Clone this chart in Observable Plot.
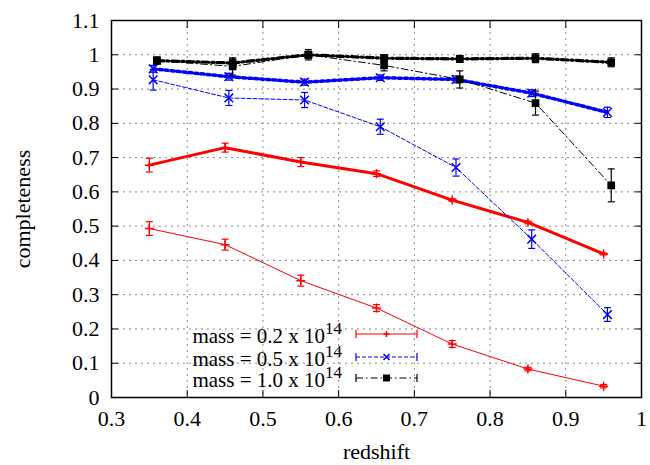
<!DOCTYPE html>
<html><head><meta charset="utf-8">
<script src="https://cdn.jsdelivr.net/npm/d3@7"></script>
<script src="https://cdn.jsdelivr.net/npm/@observablehq/plot@0.6"></script>
<style>body{margin:0;background:#fff;} #chart{position:relative;width:650px;height:465px;} svg text{font-family:'Liberation Serif','Times New Roman',serif;}</style>
</head><body><div id="chart"></div>
<script>
// ---- data ----
const xTicks = [0.3, 0.4, 0.5, 0.6, 0.7, 0.8, 0.9, 1.0];
const yTicks = [0, 0.1, 0.2, 0.3, 0.4, 0.5, 0.6, 0.7, 0.8, 0.9, 1.0, 1.1];
const legendLabels = ["mass = 0.2 x 10", "mass = 0.5 x 10", "mass = 1.0 x 10"];
const legendExp = "14";

const redshift02 = [0.35, 0.45, 0.55, 0.65, 0.75, 0.85, 0.95];
const redshift05 = [0.355, 0.455, 0.555, 0.655, 0.755, 0.855, 0.955];
const redshift10 = [0.36, 0.46, 0.56, 0.66, 0.76, 0.86, 0.96];

const m02Upper = [0.678, 0.729, 0.687, 0.653, 0.576, 0.511, 0.419];
const m02UpperErr = [0.02, 0.013, 0.013, 0.008, 0.004, 0.004, 0.003];
const m02Lower = [0.493, 0.446, 0.341, 0.261, 0.156, 0.083, 0.033];
const m02LowerErr = [0.02, 0.016, 0.016, 0.01, 0.01, 0.005, 0.005];

const m05Upper = [0.959, 0.936, 0.92, 0.933, 0.928, 0.888, 0.832];
const m05UpperErr = [0.01, 0.01, 0.009, 0.008, 0.01, 0.01, 0.015];
const m05Lower = [0.927, 0.874, 0.868, 0.79, 0.671, 0.462, 0.242];
const m05LowerErr = [0.03, 0.022, 0.022, 0.022, 0.025, 0.027, 0.02];

const m10Upper = [0.983, 0.976, 1.0, 0.99, 0.988, 0.99, 0.978];
const m10UpperErr = [0.01, 0.012, 0.01, 0.01, 0.01, 0.013, 0.013];
const m10Lower = [0.983, 0.966, 1.0, 0.969, 0.928, 0.859, 0.619];
const m10LowerErr = [0.01, 0.025, 0.015, 0.016, 0.025, 0.035, 0.048];

// ---- styles ----
const RED = "#ff0000", BLUE = "#0000ff", BLACK = "#000000";
const series = [
  {xs: redshift02, ys: m02Upper, es: m02UpperErr, color: RED, w: 3, dash: null, sym: "plus", r: 3},
  {xs: redshift02, ys: m02Lower, es: m02LowerErr, color: RED, w: 1, dash: null, sym: "plus", r: 3},
  {xs: redshift05, ys: m05Upper, es: m05UpperErr, color: BLUE, w: 3.5, dash: "3,3", sym: "times", r: 4},
  {xs: redshift05, ys: m05Lower, es: m05LowerErr, color: BLUE, w: 1, dash: "4,2", sym: "times", r: 4},
  {xs: redshift10, ys: m10Upper, es: m10UpperErr, color: BLACK, w: 3.2, dash: "7,3,2,3", sym: "square", r: 3.5},
  {xs: redshift10, ys: m10Lower, es: m10LowerErr, color: BLACK, w: 1, dash: "7,3,1.5,3", sym: "square", r: 3.5}
];

const capSymbol = {draw(ctx) { ctx.moveTo(-3.5, 0); ctx.lineTo(3.5, 0); }};
const fmt = d => String(+d.toFixed(1));
const FONT = "'Liberation Serif', 'Times New Roman', serif";

const marks = [
  Plot.gridX(xTicks, {stroke: "#888", strokeOpacity: 1, strokeDasharray: "2,4"}),
  Plot.gridY(yTicks, {stroke: "#888", strokeOpacity: 1, strokeDasharray: "2,4"})
];
for (const s of series) {
  const data = s.xs.map((x, i) => ({x, y: s.ys[i], e: s.es[i]}));
  marks.push(
    Plot.line(data, {x: "x", y: "y", stroke: s.color, strokeWidth: s.w, strokeDasharray: s.dash}),
    Plot.ruleX(data, {x: "x", y1: d => d.y - d.e, y2: d => d.y + d.e, stroke: s.color, strokeWidth: 1.2}),
    Plot.dot(data, {x: "x", y: d => d.y - d.e, symbol: capSymbol, stroke: s.color, strokeWidth: 1.2}),
    Plot.dot(data, {x: "x", y: d => d.y + d.e, symbol: capSymbol, stroke: s.color, strokeWidth: 1.2}),
    Plot.dot(data, {x: "x", y: "y", symbol: s.sym, r: s.r, stroke: s.color, fill: s.sym === "square" ? s.color : "none", strokeWidth: 1.5})
  );
}
marks.push(
  Plot.axisX({ticks: xTicks, anchor: "bottom", tickSize: 0, tickPadding: 13, tickFormat: fmt, label: null, fontSize: 22, fontFamily: FONT}),
  Plot.axisY({ticks: yTicks, anchor: "left", tickSize: 0, tickPadding: 12, tickFormat: fmt, label: null, fontSize: 22, fontFamily: FONT}),
  Plot.axisX({ticks: xTicks, anchor: "bottom", tickSize: -7, tickFormat: () => "", label: null}),
  Plot.axisX({ticks: xTicks, anchor: "top", tickSize: -7, tickFormat: () => "", label: null}),
  Plot.axisY({ticks: yTicks, anchor: "left", tickSize: -7, tickFormat: () => "", label: null}),
  Plot.axisY({ticks: yTicks, anchor: "right", tickSize: -7, tickFormat: () => "", label: null}),
  Plot.text(["redshift"], {frameAnchor: "bottom", lineAnchor: "middle", textAnchor: "middle", dy: 54, fontSize: 22, fontFamily: FONT}),
  Plot.text(["completeness"], {frameAnchor: "left", lineAnchor: "middle", textAnchor: "middle", dx: -89, rotate: -90, fontSize: 22, fontFamily: FONT}),
  Plot.frame({stroke: "#000", strokeWidth: 1.5})
);

const chart = Plot.plot({
  width: 650, height: 465,
  marginLeft: 111, marginRight: 9, marginTop: 20, marginBottom: 68,
  x: {domain: [0.3, 1.0]},
  y: {domain: [0, 1.1]},
  style: {fontFamily: FONT, fontSize: "22px", background: "#fff", color: "#000"},
  marks
});
document.getElementById("chart").appendChild(chart);

// ---- legend (key box inside the plot area, like gnuplot) ----
const svg = d3.select(chart);
const leg = svg.append("g").style("font-family", FONT).attr("font-size", 21);
const legStyles = [series[0], series[2], series[4]];
legendLabels.forEach((lab, i) => {
  const cy = [334, 357, 378][i];
  const s = legStyles[i];
  const t = leg.append("text").attr("x", 342).attr("y", cy + 9).attr("text-anchor", "end").attr("fill", "#000");
  t.append("tspan").text(lab);
  t.append("tspan").attr("dy", -9).attr("font-size", 17).text(legendExp);
  const x1 = 356, x2 = 417, xm = (x1 + x2) / 2;
  leg.append("line").attr("x1", x1).attr("x2", x2).attr("y1", cy).attr("y2", cy)
    .attr("stroke", s.color).attr("stroke-width", 1.2).attr("stroke-dasharray", s.dash ? (i === 1 ? "4,2" : "7,3,1.5,3") : null);
  [x1, x2].forEach(x => leg.append("line").attr("x1", x).attr("x2", x).attr("y1", cy - 4).attr("y2", cy + 4).attr("stroke", s.color).attr("stroke-width", 1.2));
  if (s.sym === "plus") {
    leg.append("path").attr("d", `M${xm - 3},${cy}H${xm + 3}M${xm},${cy - 3}V${cy + 3}`).attr("stroke", s.color).attr("stroke-width", 1.5);
  } else if (s.sym === "times") {
    leg.append("path").attr("d", `M${xm - 3},${cy - 3}L${xm + 3},${cy + 3}M${xm - 3},${cy + 3}L${xm + 3},${cy - 3}`).attr("stroke", s.color).attr("stroke-width", 1.5);
  } else {
    leg.append("rect").attr("x", xm - 3.5).attr("y", cy - 3.5).attr("width", 7).attr("height", 7).attr("fill", s.color);
  }
});
</script></body></html>
